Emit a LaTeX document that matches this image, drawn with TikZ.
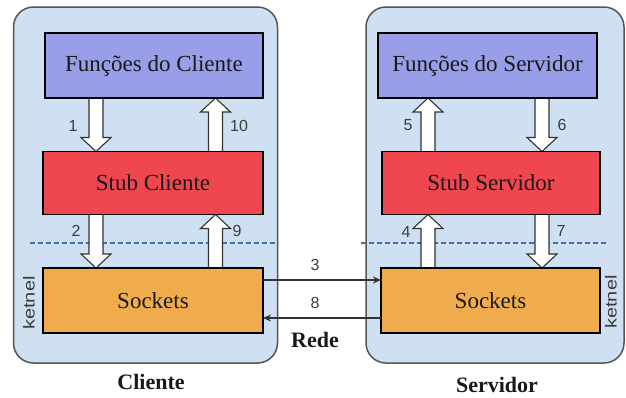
\documentclass[tikz,border=0pt]{standalone}
\usepackage{fontspec}
\setmainfont{Liberation Serif}
\newfontfamily\sansf{Liberation Sans}
\usetikzlibrary{arrows.meta,calc}
\definecolor{contfill}{RGB}{207,224,242}
\definecolor{contline}{RGB}{85,85,85}
\definecolor{funcfill}{RGB}{152,158,232}
\definecolor{stubfill}{RGB}{240,70,80}
\definecolor{sockfill}{RGB}{240,172,76}
\definecolor{dashc}{RGB}{70,110,160}
\definecolor{numc}{RGB}{60,60,60}
\definecolor{arrline}{RGB}{50,50,50}
\pgfdeclarelayer{back}
\pgfdeclarelayer{mid}
\pgfsetlayers{back,mid,main}
\tikzset{
  container/.style={draw=contline, line width=1.5pt, fill=contfill, rounded corners=20pt, inner sep=0pt, outer sep=0pt},
  box/.style={draw=black, line width=1.4pt, inner sep=0pt, outer sep=0pt, font=\fontsize{23}{23}\selectfont, text=black!90},
  funcbox/.style={box, fill=funcfill, minimum height=65pt},
  stubbox/.style={box, fill=stubfill, minimum height=63pt},
  sockbox/.style={box, fill=sockfill, minimum height=65pt},
  blockarr/.style={draw=arrline, line width=1.1pt, fill=white, line join=miter},
  num/.style={font=\sansf\fontsize{16}{16}\selectfont, text=numc, inner sep=0pt},
  kern/.style={font=\sansf\fontsize{16}{16}\selectfont, text=numc, inner sep=0pt, rotate=90},
  title/.style={font=\bfseries\fontsize{22}{22}\selectfont, text=black!90, inner sep=0pt},
  dashline/.style={draw=dashc, line width=1.3pt, dash pattern=on 5pt off 3pt},
  netarr/.style={draw=arrline, line width=1.8pt, -{Stealth[length=8pt,width=7pt]}}
}
% #1 start, #2 tip, #3 = +1 if the tip is below the start, -1 if above
\newcommand\blockarrow[3]{%
  \path[blockarr] let \p1=(#1), \p2=(#2) in
    (\x1-7pt,\y1) -- (\x1-7pt,\y2+#3*14pt) -- (\x1-15pt,\y2+#3*14pt) --
    (\x1,\y2) -- (\x1+15pt,\y2+#3*14pt) -- (\x1+7pt,\y2+#3*14pt) -- (\x1+7pt,\y1);}
\begin{document}
\begin{tikzpicture}[x=1pt,y=-1pt]
\useasboundingbox (0,0) rectangle (626,397);
\begin{pgfonlayer}{back}
  \node[container, minimum width=264pt, minimum height=356pt] (contC) at (145.5,185) {};
  \node[container, minimum width=258pt, minimum height=356pt] (contS) at (495,185) {};
  \coordinate (dC1) at (30,243);
  \coordinate (dC2) at (277,243);
  \coordinate (dS1) at (361,243);
  \coordinate (dS2) at (608,243);
  \draw[dashline] (dC1) -- (dC2);
  \draw[dashline] (dS1) -- (dS2);
\end{pgfonlayer}
% boxes
\node[funcbox, minimum width=218pt] (funcC) at (154,65.5) {Funções do Cliente};
\node[stubbox, minimum width=220pt] (stubC) at (153,183) {Stub Cliente};
\node[sockbox, minimum width=220pt] (sockC) at (153,300.5) {Sockets};
\node[funcbox, minimum width=219pt] (funcS) at (487.5,65.5) {Funções do Servidor};
\node[stubbox, minimum width=218pt] (stubS) at (491,183) {Stub Servidor};
\node[sockbox, minimum width=219pt] (sockS) at (490.5,300.5) {Sockets};
% x positions of the block arrows
\coordinate (xa) at (96,0);
\coordinate (xb) at (215.5,0);
\coordinate (xc) at (428,0);
\coordinate (xd) at (542,0);
\begin{pgfonlayer}{mid}
  \blockarrow{funcC.south -| xa}{stubC.north -| xa}{1}
  \blockarrow{stubC.north -| xb}{funcC.south -| xb}{-1}
  \blockarrow{stubC.south -| xa}{sockC.north -| xa}{1}
  \blockarrow{sockC.north -| xb}{stubC.south -| xb}{-1}
  \blockarrow{stubS.north -| xc}{funcS.south -| xc}{-1}
  \blockarrow{funcS.south -| xd}{stubS.north -| xd}{1}
  \blockarrow{sockS.north -| xc}{stubS.south -| xc}{-1}
  \blockarrow{stubS.south -| xd}{sockS.north -| xd}{1}
\end{pgfonlayer}
% network arrows
\coordinate (y3) at (0,280);
\coordinate (y8) at (0,318);
\draw[netarr] (sockC.east |- y3) -- (sockS.west |- y3);
\draw[netarr] (sockS.west |- y8) -- (sockC.east |- y8);
% labels
\node[num] (l1) at (73,126) {1};
\node[num] (l10) at (239,126) {10};
\node[num] (l2) at (76,231) {2};
\node[num] (l9) at (237,231) {9};
\node[num] (l5) at (408,125) {5};
\node[num] (l6) at (562,125) {6};
\node[num] (l4) at (406,232) {4};
\node[num] (l7) at (561,231) {7};
\node[num] (l3) at (315,265) {3};
\node[num] (l8) at (315,303) {8};
\node[kern] (kC) at (29,303) {\scalebox{1.25}[1]{ketnel}};
\node[kern] (kS) at (611,302) {\scalebox{1.25}[1]{ketnel}};
\node[title] (rede) at (315,340) {Rede};
\node[title] (tC) at (151,382) {Cliente};
\node[title] (tS) at (497,385) {Servidor};
\end{tikzpicture}
\end{document}
